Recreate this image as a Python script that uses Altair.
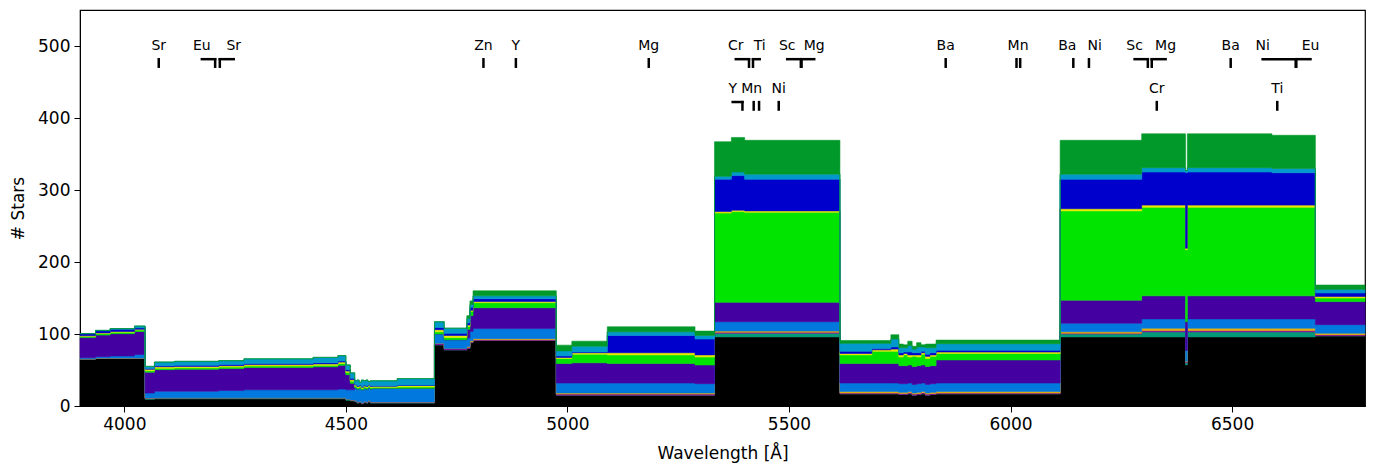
import altair as alt
import pandas as pd

# ---------------- data ----------------
wavelength_edges = [3900, 3935, 3968, 4023, 4047, 4068, 4113, 4213, 4270, 4426, 4482, 4500, 4510,
                    4520, 4525, 4530, 4535, 4540, 4545, 4550, 4555, 4560, 4616, 4700, 4722, 4773,
                    4780, 4787, 4975, 5010, 5090, 5288, 5332, 5370, 5400, 5615, 5687, 5730,
                    5748, 5758, 5768, 5778, 5788, 5798, 5808, 5818, 5832, 6112, 6296, 6395,
                    6399, 6590, 6688]
wavelength_end = 6800

black = [65, 66, 66, 66, 9.5, 10, 10, 10, 10, 10, 10, 8, 7,
         6, 4, 5, 3, 5, 4, 6, 4,
         4, 4, 85, 78, 80, 88, 91, 15, 15, 15, 15, 96, 96, 96, 17, 17, 17,
         16, 16, 17, 15, 16, 17, 15, 16,
         17, 96, 96, 57, 96, 96, 97.5]
teal = [0.5, 0.5, 0.5, 0.5, 1, 1, 1, 1, 1, 1, 1, 1, 1,
        0.5, 0.5, 0.5, 0.5, 0.5, 0.5, 0.5, 0.5,
        0.5, 0.5, 0, 0, 0, 0, 0, 0, 0, 0, 0, 5, 5, 5, 0, 0, 0,
        0, 0, 0, 0, 0, 0, 0, 0,
        0, 4, 7, 3, 7, 7, 0]
purple = [0, 0, 0, 0, 0.5, 0.5, 0.5, 0.5, 0.5, 0.5, 0.5, 0.5, 0.5,
          1, 1, 1, 1, 1, 1, 1, 1,
          1, 1, 2, 2, 1.5, 1, 1, 1.5, 1.5, 1.5, 1.5, 1.5, 1.5, 1.5, 1, 1, 1,
          1.5, 1.5, 1.5, 1.5, 1.5, 1.5, 1.5, 1.5,
          1, 1, 2, 1, 2, 2, 1.5]
orange = [0, 0, 0, 0, 0, 0, 0, 0, 0, 0, 0, 0, 0,
          0, 0, 0, 0, 0, 0, 0, 0,
          0, 0, 0, 0, 1, 1.5, 1.5, 1.5, 1.5, 1.5, 1.5, 1.5, 1.5, 1.5, 2, 2, 2,
          1.5, 1.5, 1.5, 1.5, 1.5, 1.5, 1.5, 1.5,
          2, 2, 3, 1, 3, 3, 2]
cornflower = [1.5, 2, 3, 5, 7, 9, 9, 10, 11, 11, 12, 13, 14,
              18, 18, 18, 18, 18, 18, 18, 18,
              19, 19, 13, 12, 12, 13, 14, 14, 14, 14, 13, 13, 13, 13, 12, 12, 12,
              12, 12, 12, 12, 12, 12, 12, 12,
              12, 12, 13, 15, 13, 13, 12]
indigo = [28, 30, 31, 32, 29, 30, 30.5, 30.5, 31, 32, 33, 21, 9,
          0, 0, 0, 0, 0, 0, 0, 0,
          0, 0, 0, 0, 12, 22, 29, 27, 28, 27, 26, 27, 27, 27, 27, 27, 27,
          25, 25, 25, 25, 25, 25, 25, 25,
          32, 32, 32, 40, 32, 32, 32]
bright_green = [1.5, 2, 2, 2, 2, 2, 2, 2, 2, 2, 2.5, 3, 3,
                2, 2, 2, 2, 2, 2, 2, 2,
                1.5, 2, 3, 3, 4, 6, 7, 7, 12, 12, 11, 124, 126, 125, 12, 17, 17,
                12, 15, 11, 14, 12, 15, 11, 13,
                9, 124, 123, 100, 123, 123, 5]
yellow = [1, 1, 1, 1, 2, 2, 2, 2, 2, 2, 2, 2, 2,
          1.5, 1.5, 1.5, 1.5, 1.5, 1.5, 1.5, 1.5,
          1.5, 2, 3, 3, 2, 1.5, 1.5, 1.5, 2, 3, 3, 2, 2, 2, 2, 2, 3,
          3, 2, 3, 2, 3, 2, 3, 2,
          2, 3, 3, 2, 3, 3, 2]
blue = [3, 3, 3, 2, 1, 1.5, 1.5, 1.5, 1.5, 1.5, 1.5, 2, 2,
        1, 1, 1, 1, 1, 1, 1, 1,
        0.5, 0.5, 3, 3, 3, 4, 4, 2, 1, 24, 22, 45, 48, 44, 3, 2, 3,
        3, 2, 4, 3, 3, 2, 3, 3,
        2.5, 41, 46, 105, 46, 45, 5]
cyan = [0, 0.5, 1, 2.5, 3, 5, 5.5, 5.5, 6.5, 7.5, 7.5, 6.5, 7.5,
        5, 8, 4, 9, 6, 8, 4, 7,
        7, 9, 8, 7, 6, 4, 4, 7, 8, 5, 5, 4, 5, 7, 11, 7, 11,
        7, 6, 9, 5, 8, 6, 9, 7,
        9, 7, 6, 3, 6, 6, 5]
green = [0, 0, 0, 0, 0, 0, 0, 0, 0, 0, 0, 0, 0,
         0, 0, 0, 0, 0, 0, 0, 0,
         0, 0, 0, 0, 4, 5, 7, 8, 7, 7, 6, 48, 48, 47, 4, 4, 6,
         5, 4, 6, 4, 6, 3, 5, 5,
         5, 47, 47, 0, 47, 46, 6]

layer_names = ["black", "teal", "purple", "orange", "cornflower", "indigo",
               "bright_green", "yellow", "blue", "cyan", "green"]
layer_values = [black, teal, purple, orange, cornflower, indigo,
                bright_green, yellow, blue, cyan, green]
layer_colors = ["#000000", "#009a78", "#8a0099", "#e6b000", "#0078dd", "#4400a0",
                "#00e400", "#e8e800", "#0000cc", "#0099cc", "#00992a"]

# element line annotations
label_text = ["Sr", "Eu", "Sr", "Zn", "Y", "Mg", "Cr", "Ti", "Sc", "Mg", "Ba", "Mn", "Ba", "Ni",
              "Sc", "Mg", "Ba", "Ni", "Eu",
              "Y", "Mn", "Ni", "Cr", "Ti"]
label_pos = [4077.7, 4175, 4247, 4810.5, 4883.7, 5183.6, 5380, 5434, 5496, 5557, 5853.7, 6017,
             6128, 6190, 6280, 6350, 6496.9, 6569, 6677,
             5373, 5416, 5476.9, 6330.1, 6602]
label_row = [1] * 19 + [2] * 5

tick_pos = [4077.7, 4205.0, 4215.5, 4810.5, 4883.7, 5183.6, 5409.8, 5418.8, 5526.8, 5528.4,
            5853.7, 6013.5, 6021.8, 6141.7, 6177.0, 6309.9, 6318.7, 6496.9, 6643.6, 6645.0,
            5395, 5420.4, 5432.5, 5476.9, 6330.1, 6602]
tick_anchor = [4077.7, 4175, 4247, 4810.5, 4883.7, 5183.6, 5380, 5434, 5496, 5557,
               5853.7, 6013.5, 6021.8, 6141.7, 6177.0, 6280, 6350, 6496.9, 6569, 6677,
               5373, 5420.4, 5432.5, 5476.9, 6330.1, 6602]
tick_row = [1] * 20 + [2] * 6

# ---------------- build tables ----------------
xs = wavelength_edges + [wavelength_end]
rows = []
for li, (name, vals) in enumerate(zip(layer_names, layer_values)):
    for j, x in enumerate(xs):
        v = vals[min(j, len(vals) - 1)]
        rows.append({"wl": x, "n": v, "layer": name, "ord": li})
df = pd.DataFrame(rows)

row_label_y = {1: 494.5, 2: 435.0}
row_tick_top = {1: 483.3, 2: 423.8}
row_tick_bot = {1: 469.5, 2: 410.0}

labels_df = pd.DataFrame({"text": label_text, "wl": label_pos,
                          "n": [row_label_y[r] for r in label_row]})
ticks_df = pd.DataFrame({"wl": tick_pos, "anchor": tick_anchor,
                         "top": [row_tick_top[r] for r in tick_row],
                         "n": [row_tick_bot[r] for r in tick_row]})
conn_df = ticks_df[ticks_df["wl"] != ticks_df["anchor"]].copy()
conn_df["n"] = conn_df["top"] - 1.6

xscale = alt.Scale(domain=[3900, 6800], nice=False, zero=False)
yscale = alt.Scale(domain=[0, 550], nice=False)
xaxis = alt.Axis(values=[4000, 4500, 5000, 5500, 6000, 6500], format="d",
                 title="Wavelength [Å]", labelPadding=4, titlePadding=13)
yaxis = alt.Axis(values=[0, 100, 200, 300, 400, 500], title="# Stars",
                 labelPadding=4, titlePadding=10)

area = alt.Chart(df).mark_area(interpolate="step-after", strokeWidth=0.6).encode(
    x=alt.X("wl:Q", scale=xscale, axis=xaxis),
    y=alt.Y("n:Q", stack="zero", scale=yscale, axis=yaxis),
    color=alt.Color("layer:N", scale=alt.Scale(domain=layer_names, range=layer_colors), legend=None),
    stroke=alt.Stroke("layer:N", scale=alt.Scale(domain=layer_names, range=layer_colors), legend=None),
    order=alt.Order("ord:Q", sort="ascending"),
)

ticks = alt.Chart(ticks_df).mark_rule(color="black", strokeWidth=2.5).encode(
    x=alt.X("wl:Q", scale=xscale, axis=xaxis),
    y=alt.Y("n:Q", scale=yscale, axis=yaxis),
    y2="top:Q",
)

conns = alt.Chart(conn_df).mark_rule(color="black", strokeWidth=2.5, strokeCap="square").encode(
    x=alt.X("wl:Q", scale=xscale, axis=xaxis),
    x2="anchor:Q",
    y=alt.Y("n:Q", scale=yscale, axis=yaxis),
)

texts = alt.Chart(labels_df).mark_text(font="DejaVu Sans", fontSize=14, color="black",
                                       baseline="alphabetic", align="center").encode(
    x=alt.X("wl:Q", scale=xscale, axis=xaxis),
    y=alt.Y("n:Q", scale=yscale, axis=yaxis),
    text="text:N",
)

chart = alt.layer(area, ticks, conns, texts).properties(
    width=1285, height=396,
    padding={"left": 72, "top": 2, "right": 1, "bottom": 59},
    autosize=alt.AutoSizeParams(type="none"),
).configure_view(stroke="black", strokeWidth=1.2).configure_axis(
    labelFont="DejaVu Sans", titleFont="DejaVu Sans", labelFontSize=17, titleFontSize=17,
    titleFontWeight="normal", labelColor="black", titleColor="black", tickColor="black",
    domainColor="black", tickSize=6, grid=False,
)

chart.save("out.html", embed_options={"renderer": "svg", "actions": False})
